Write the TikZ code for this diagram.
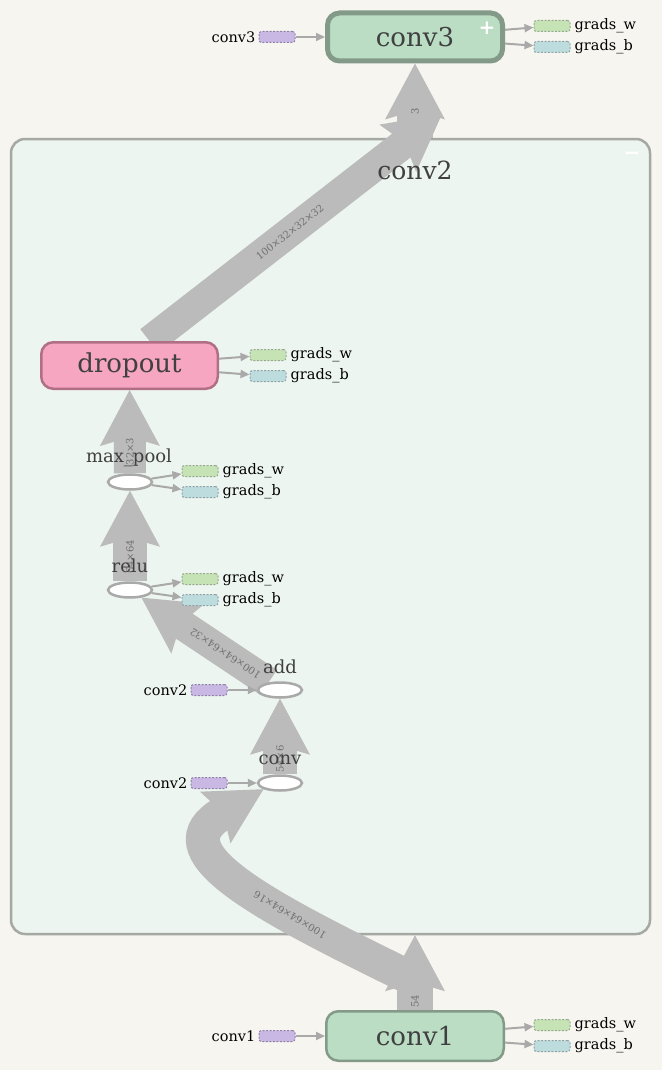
\documentclass[tikz,border=0pt]{standalone}
\usepackage{fontspec}
\setmainfont{DejaVu Serif}
\usetikzlibrary{arrows.meta, shapes.geometric, positioning}

\definecolor{bgcol}{HTML}{F6F5EF}
\definecolor{grpfill}{HTML}{EDF5F0}
\definecolor{grpline}{HTML}{A5A8A3}
\definecolor{metafill}{HTML}{BADDC4}
\definecolor{metaline}{HTML}{839A89}
\definecolor{dropfill}{HTML}{F6A6C0}
\definecolor{dropline}{HTML}{B16F86}
\definecolor{bandcol}{HTML}{BBBBBB}
\definecolor{thincol}{HTML}{A9A9A9}
\definecolor{txtdark}{HTML}{404040}
\definecolor{lblgray}{HTML}{707070}
\definecolor{purfill}{HTML}{C9B8E4}
\definecolor{purline}{HTML}{8F80A8}
\definecolor{grnfill}{HTML}{C6E3B6}
\definecolor{grnline}{HTML}{95A98C}
\definecolor{blufill}{HTML}{BDDCDE}
\definecolor{bluline}{HTML}{8FA2A6}

\pgfdeclarelayer{bg}
\pgfdeclarelayer{edges}
\pgfsetlayers{bg,edges,main}

\tikzset{
    opbox/.style={draw=metaline, fill=metafill, rounded corners=12pt, inner sep=0pt,
        text=txtdark, font=\fontsize{26}{30}\selectfont},
    opell/.style={ellipse, draw=thincol, fill=white, line width=2.5pt,
        minimum width=44pt, minimum height=15pt, inner sep=0pt},
    oplbl/.style={text=txtdark, font=\fontsize{18}{20}\selectfont, inner sep=0pt},
    smallbox/.style={rounded corners=2.5pt, line width=1pt, dash pattern=on 2pt off 1.5pt,
        minimum width=36pt, minimum height=11pt, inner sep=0pt},
    inbox/.style={smallbox, draw=purline, fill=purfill},
    gradw/.style={smallbox, draw=grnline, fill=grnfill},
    gradb/.style={smallbox, draw=bluline, fill=blufill},
    smalltxt/.style={font=\fontsize{14.5}{16}\selectfont, inner sep=0pt},
    tinyedge/.style={draw=thincol, line width=2pt, -{Triangle[length=9pt,width=8pt]}},
    band/.style={draw=bandcol, line width=34pt,
        -{Stealth[length=56pt,width=60pt,inset=9pt,line width=0pt]}},
    bandlbl/.style={text=lblgray, font=\fontsize{10}{11}\selectfont, inner sep=0pt,
        sloped, allow upside down},
}

\begin{document}
\begin{tikzpicture}[x=1pt, y=-1pt]
\useasboundingbox (0,0) rectangle (662,1070);

% background and group box
\begin{pgfonlayer}{bg}
\fill[bgcol] (0,0) rectangle (662,1070);
\node[draw=grpline, fill=grpfill, line width=2.5pt, rounded corners=14pt,
    minimum width=639pt, minimum height=795pt, inner sep=0pt] (grp) at (330.5,536.5) {};
\end{pgfonlayer}
\node[text=txtdark, font=\fontsize{25}{28}\selectfont, inner sep=0pt] (grplbl) at (415,170) {conv2};
\node[text=white, font=\fontsize{20}{20}\selectfont\bfseries, inner sep=0pt] (grpminus) at (632,156) {−};

% ops
\node[opbox, line width=5pt, minimum width=175pt, minimum height=48pt] (conv3) at (415,37) {conv3};
\node[text=white, font=\fontsize{20}{20}\selectfont\bfseries, inner sep=0pt] (conv3plus) at (487,28) {+};
\node[opbox, line width=2.5pt, minimum width=177.5pt, minimum height=49.5pt] (conv1) at (415,1036) {conv1};
\node[opbox, draw=dropline, fill=dropfill, line width=2.5pt, minimum width=176.5pt,
    minimum height=46.5pt] (dropout) at (129.5,365.5) {dropout};

\node[opell] (mp) at (130,482) {};
\node[opell] (relu) at (130,590) {};
\node[opell] (add) at (280,690) {};
\node[opell] (conv) at (280,783) {};
\node[oplbl] (mplbl) at (129,458) {max\_pool};
\node[oplbl] (relulbl) at (130,566) {relu};
\node[oplbl] (addlbl) at (280,667) {add};
\node[oplbl] (convlbl) at (280,760) {conv};

% inputs
\foreach \p/\x/\y/\t in {conv3/277/37/conv3, add/209/690/conv2, conv/209/783/conv2, conv1/277/1036/conv1} {
    \node[inbox] (\p-in) at (\x,\y) {};
    \node[smalltxt, left=3pt of \p-in] (\p-intxt) {\t};
    \draw[tinyedge] (\p-in) -- (\p);
}

% grads
\foreach \p/\x/\y in {conv3/552/26, dropout/268/355, mp/200/471, relu/200/579, conv1/552/1025} {
    \node[gradw] (\p-gw) at (\x,\y) {};
    \node[gradb] (\p-gb) at (\x,\y+21) {};
    \node[smalltxt, right=4pt of \p-gw] (\p-gwtxt) {grads\_w};
    \node[smalltxt, right=4pt of \p-gb] (\p-gbtxt) {grads\_b};
    \draw[tinyedge] (\p) -- (\p-gw);
    \draw[tinyedge] (\p) -- (\p-gb);
}

% thick edges
\coordinate (c2in) at (415,980);
\coordinate (c2out) at (442,114);
\begin{pgfonlayer}{edges}
\draw[band, line width=36pt] (conv1.north) -- node[bandlbl, pos=0.12] {54} (conv1.north |- grp.south);
\draw[band] (c2in) .. controls (250,900) and (160,850) .. node[bandlbl, pos=0.3] {100×64×64×16} (conv.south west);
\draw[band] (conv) -- node[bandlbl, pos=0.2] {54×6} (add);
\draw[band, line width=30pt] (add) -- node[bandlbl, pos=0.34] {100×64×64×32} (relu);
\draw[band] (relu) -- node[bandlbl, pos=0.27] {64×64} (mp);
\draw[band, line width=32pt] (mp) -- node[bandlbl, pos=0.26] {32×3} (dropout);
\draw[band, line width=30pt] ([xshift=20pt]dropout.north) -- node[bandlbl, pos=0.48] {100×32×32×32} (c2out);
\draw[band, line width=36pt] (conv3.south |- grp.north) -- node[bandlbl, pos=0.36] {3} (conv3.south);
\end{pgfonlayer}
\end{tikzpicture}
\end{document}
